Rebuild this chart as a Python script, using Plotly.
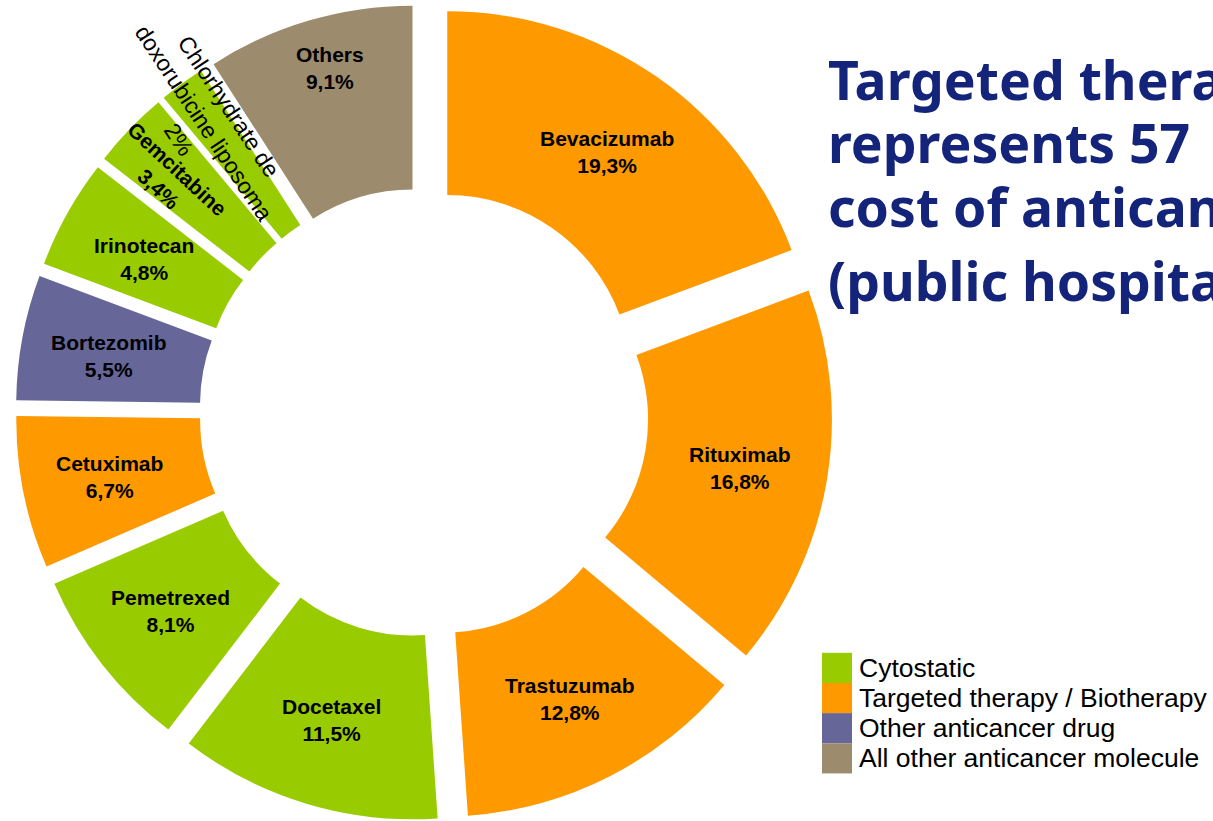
import math
import plotly.graph_objects as go

# ---------------- data ----------------
drugs = ["Bevacizumab", "Rituximab", "Trastuzumab", "Docetaxel", "Pemetrexed",
         "Cetuximab", "Bortezomib", "Irinotecan", "Gemcitabine",
         "Chlorhydrate de<br>doxorubicine liposoma", "Others"]
shares = [19.3, 16.8, 12.8, 11.5, 8.1, 6.7, 5.5, 4.8, 3.4, 2, 9.1]
share_labels = ["19,3%", "16,8%", "12,8%", "11,5%", "8,1%", "6,7%", "5,5%",
                "4,8%", "3,4%", "2%", "9,1%"]
drug_class = ["Targeted therapy / Biotherapy", "Targeted therapy / Biotherapy",
              "Targeted therapy / Biotherapy", "Cytostatic", "Cytostatic",
              "Targeted therapy / Biotherapy", "Other anticancer drug",
              "Cytostatic", "Cytostatic", "Cytostatic",
              "All other anticancer molecule"]
class_names = ["Cytostatic", "Targeted therapy / Biotherapy",
               "Other anticancer drug", "All other anticancer molecule"]
# the title runs past the right edge of the slide; only this part is visible
title_lines = ["Targeted therapy", "represents 57",
               "cost of anticancer drugs", "(public hospitals)"]

# ---------------- style ----------------
class_colors = {"Cytostatic": "#99CC00",
                "Targeted therapy / Biotherapy": "#FF9900",
                "Other anticancer drug": "#666699",
                "All other anticancer molecule": "#9C8B6D"}
W, H = 1213, 821
TOP_MARGIN = 4
DOM_X = [0.0, 0.6991]
PULL = 0.111
HOLE = 0.5
LABEL_FONT = "Liberation Sans, Arial, sans-serif"
# label radial position (fraction of outer radius) and angular nudge (deg)
label_r = {8: 0.837, 9: 0.8855, 10: 0.871}
label_dang = {8: -1.3, 9: -0.7, 10: 1.4}
label_angle = {8: 43, 9: 56.5}

fig = go.Figure()
fig.add_trace(go.Pie(
    labels=drugs, values=shares, sort=False, direction="clockwise", rotation=0,
    hole=HOLE, pull=[PULL] * len(shares),
    marker=dict(colors=[class_colors[c] for c in drug_class],
                line=dict(width=0, color="white")),
    textinfo="none", hoverinfo="label+percent", showlegend=False,
    domain=dict(x=DOM_X, y=[0, 1]),
))

# geometry of the pie as plotly lays it out
plot_h = H - TOP_MARGIN
cx = W * (DOM_X[0] + DOM_X[1]) / 2
cy = TOP_MARGIN + plot_h / 2
R = min(W * (DOM_X[1] - DOM_X[0]), plot_h) / (2 + 2 * PULL)
total = sum(shares)

annotations = []
cum = 0.0
for i, (name, v, lab) in enumerate(zip(drugs, shares, share_labels)):
    mid = (cum + v / 2) / total * 2 * math.pi
    cum += v
    pcx = cx + PULL * R * math.sin(mid)
    pcy = cy - PULL * R * math.cos(mid)
    a = mid + math.radians(label_dang.get(i, 0))
    rf = label_r.get(i, 0.762)
    px = pcx + rf * R * math.sin(a)
    py = pcy - rf * R * math.cos(a)
    if i == 9:
        txt = name + "<br>" + lab
        font = dict(family=LABEL_FONT, size=23, color="black")
    else:
        txt = "<b>" + name + "<br>" + lab + "</b>"
        font = dict(family=LABEL_FONT, size=21, color="black")
    ann = dict(x=px / W, y=1 - py / H, xref="paper", yref="paper",
               text=txt, showarrow=False, xanchor="center", yanchor="middle",
               align="center", font=font)
    if i in label_angle:
        ann["textangle"] = label_angle[i]
    annotations.append(ann)

# title (clipped by the page edge, as in the reference)
title_mid_y = [76, 139, 203, 278]
for line, ym in zip(title_lines, title_mid_y):
    annotations.append(dict(
        x=826 / W, y=1 - ym / H, xref="paper", yref="paper", text="<b>" + line + "</b>",
        showarrow=False, xanchor="left", yanchor="middle", align="left",
        font=dict(family="Noto Sans, DejaVu Sans, sans-serif", size=53.5, color="#14247A")))

# legend as colored blocks
shapes = []
leg_top, leg_h = 652, 30.3
for k, cname in enumerate(class_names):
    y0 = leg_top + k * leg_h
    shapes.append(dict(type="rect", xref="paper", yref="paper",
                       x0=822 / W, x1=852 / W, y0=1 - (y0 + leg_h) / H, y1=1 - y0 / H,
                       fillcolor=class_colors[cname], line=dict(width=0)))
    annotations.append(dict(x=857 / W, y=1 - (y0 + leg_h / 2) / H, xref="paper", yref="paper",
                            text=cname, showarrow=False, xanchor="left", yanchor="middle",
                            font=dict(family=LABEL_FONT, size=26.5, color="black")))

fig.update_layout(width=W, height=H, margin=dict(l=0, r=0, t=TOP_MARGIN, b=0),
                  paper_bgcolor="white", plot_bgcolor="white", showlegend=False,
                  annotations=annotations, shapes=shapes)
fig.write_html("out.html")
